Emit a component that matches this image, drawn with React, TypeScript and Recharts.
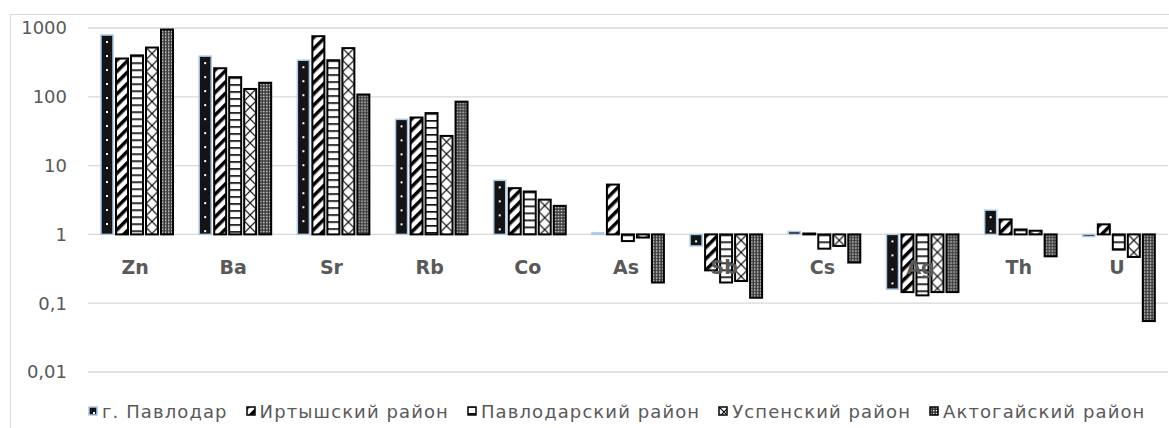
import React from 'react';
import { BarChart, Bar, XAxis, YAxis, CartesianGrid, Legend } from 'recharts';

const categories = ['Zn', 'Ba', 'Sr', 'Rb', 'Co', 'As', 'Sb', 'Cs', 'Ag', 'Th', 'U'];
const pavlodarCity = [790, 390, 340, 47, 6.1, 1.05, 0.68, 1.1, 0.16, 2.25, 0.93];
const irtyshDistrict = [360, 260, 760, 50, 4.7, 5.3, 0.3, 1.03, 0.145, 1.65, 1.4];
const pavlodarDistrict = [400, 193, 340, 58, 4.2, 0.8, 0.2, 0.62, 0.13, 1.18, 0.6];
const uspenskDistrict = [520, 130, 510, 27, 3.2, 0.9, 0.21, 0.68, 0.145, 1.13, 0.47];
const aktogayDistrict = [950, 160, 108, 85, 2.6, 0.2, 0.12, 0.39, 0.145, 0.48, 0.055];
const yTicks = [0.01, 0.1, 1, 10, 100, 1000];

const series = [
  { key: 'city', name: 'г. Павлодар', values: pavlodarCity, pattern: 'pCity', stroke: '#a9c9e8', sw: 1.5 },
  { key: 'irtysh', name: 'Иртышский район', values: irtyshDistrict, pattern: 'pIrtysh', stroke: '#000', sw: 2 },
  { key: 'pavl', name: 'Павлодарский район', values: pavlodarDistrict, pattern: 'pPavl', stroke: '#000', sw: 2 },
  { key: 'usp', name: 'Успенский район', values: uspenskDistrict, pattern: 'pUsp', stroke: '#000', sw: 2 },
  { key: 'akt', name: 'Актогайский район', values: aktogayDistrict, pattern: 'pAkt', stroke: '#000', sw: 2 },
];

// bars hang from 1 (Excel's axis crossing), so each value becomes a [low, high] range
const span = (v: number) => (v >= 1 ? [1, v] : [v, 1]);

const data = categories.map((name, i) => {
  const row: any = { name };
  series.forEach(s => { row[s.key] = span(s.values[i]); });
  return row;
});

const W = 1169;
const H = 428;
const TOP = 28;
const BOTTOM = 56;
const LEGEND_H = 28;
const XAXIS_H = 20;
const PLOT_H = H - TOP - BOTTOM;
const ONE_UP = PLOT_H * Math.log10(1 / 0.01) / Math.log10(1000 / 0.01);
const FONT = '"DejaVu Sans", sans-serif';
const GREY = '#595959';

const PatternBar = (props: any) => {
  const { x, y, width, height, pattern, stroke, sw } = props;
  if (!width || !height) return null;
  const top = height < 0 ? y + height : y;
  const h = Math.abs(height);
  return (
    <g transform={`translate(${x},${top})`}>
      <rect width={width} height={h} fill={`url(#${pattern})`} stroke={stroke} strokeWidth={sw} />
    </g>
  );
};

const ElementTick = (props: any) => {
  const { x, y, payload } = props;
  return (
    <text x={x - 2} y={y - ONE_UP + 33} textAnchor="middle" dominantBaseline="central"
      fill={GREY} fontFamily={FONT} fontSize={19} fontWeight="bold">
      {payload.value}
    </text>
  );
};

const renderLegend = () => (
  <div style={{ display: 'flex', alignItems: 'center', height: LEGEND_H, paddingLeft: 88, fontFamily: FONT, fontSize: 18, letterSpacing: 1.1, color: GREY, whiteSpace: 'nowrap' }}>
    {series.map(s => (
      <span key={s.key} style={{ display: 'flex', alignItems: 'center', marginRight: 18 }}>
        <svg width={10} height={10} style={{ marginRight: 4 }}>
          <rect x={1} y={1} width={8} height={8} fill={`url(#${s.pattern})`} stroke={s.stroke} strokeWidth={1.5} />
        </svg>
        {s.name}
      </span>
    ))}
  </div>
);

export default function App() {
  return (
    <div style={{ position: 'fixed', left: 0, top: 0, width: W, height: H, overflow: 'hidden', background: '#fff' }}>
      <div style={{ position: 'absolute', left: 10, top: 14, width: 1300, height: 600, border: '1px solid #d9d9d9' }} />
      <div style={{ position: 'absolute', left: 0, top: 0 }}>
        <BarChart width={W} height={H} data={data} barCategoryGap={13} barGap={3}
          margin={{ top: TOP, right: 1, left: 0, bottom: BOTTOM - LEGEND_H - XAXIS_H }}>
          <defs>
            <pattern id="pCity" width="12" height="14" patternUnits="userSpaceOnUse">
              <rect width="12" height="14" fill="#141414" />
              <rect x="5" y="6" width="2" height="2" fill="#fff" />
            </pattern>
            <pattern id="pIrtysh" width="8" height="8" patternUnits="userSpaceOnUse" patternTransform="rotate(45)">
              <rect width="8" height="8" fill="#fff" />
              <rect width="3.5" height="8" fill="#000" />
            </pattern>
            <pattern id="pPavl" width="12" height="7" patternUnits="userSpaceOnUse">
              <rect width="12" height="7" fill="#fff" />
              <rect width="12" height="1.6" fill="#000" />
            </pattern>
            <pattern id="pUsp" width="12" height="12" patternUnits="userSpaceOnUse">
              <rect width="12" height="12" fill="#fff" />
              <path d="M0,0 L12,12 M12,0 L0,12" stroke="#000" strokeWidth="1.2" />
            </pattern>
            <pattern id="pAkt" width="3" height="3" patternUnits="userSpaceOnUse">
              <rect width="3" height="3" fill="#3a3a3a" />
              <rect x="1" y="1" width="1.4" height="1.4" fill="#f0f0f0" />
            </pattern>
          </defs>
          <CartesianGrid vertical={false} stroke="#d9d9d9" strokeWidth={1.3} />
          <XAxis dataKey="name" height={XAXIS_H} axisLine={false} tickLine={false} tickSize={0} tickMargin={0}
            interval={0} tick={<ElementTick />} />
          <YAxis scale="log" domain={[0.01, 1000]} allowDataOverflow ticks={yTicks} width={88}
            axisLine={false} tickLine={false} tickSize={0} tickMargin={21}
            tick={{ fill: GREY, fontSize: 18, fontFamily: FONT }}
            tickFormatter={(v: number) => String(v).replace('.', ',')} />
          <Legend verticalAlign="bottom" content={renderLegend}
            wrapperStyle={{ left: 0, bottom: 3, width: W, height: LEGEND_H }} />
          {series.map(s => (
            <Bar key={s.key} dataKey={s.key} name={s.name} isAnimationActive={false}
              shape={(p: any) => <PatternBar {...p} pattern={s.pattern} stroke={s.stroke} sw={s.sw} />} />
          ))}
        </BarChart>
      </div>
    </div>
  );
}
